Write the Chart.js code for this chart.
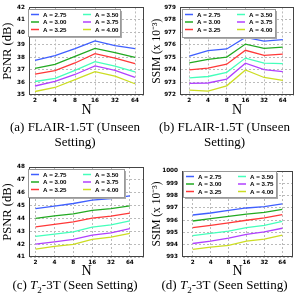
<!DOCTYPE html>
<html lang="en">
<head>
<meta charset="UTF-8">
<title>PSNR / SSIM vs N</title>
<script src="https://cdn.jsdelivr.net/npm/chart.js@4.4.0/dist/chart.umd.min.js"></script>
<style>
  body { margin: 0; background: #fff; width: 299px; height: 296px; position: relative; overflow: hidden; }
  canvas { position: absolute; }
  .cap { position: absolute; text-align: center; font-family: "Liberation Serif", serif; font-size: 13px; line-height: 15px; color: #000; }
</style>
</head>
<body>
<canvas id="ca" width="150" height="119" style="left:0;top:0"></canvas>
<canvas id="cb" width="149" height="119" style="left:150px;top:0"></canvas>
<canvas id="cc" width="150" height="132" style="left:0;top:148px"></canvas>
<canvas id="cd" width="149" height="132" style="left:150px;top:148px"></canvas>
<div class="cap" style="left:0;top:119px;width:150px">(a) FLAIR-1.5T (Unseen<br>Setting)</div>
<div class="cap" style="left:150px;top:119px;width:149px">(b) FLAIR-1.5T (Unseen<br>Setting)</div>
<div class="cap" style="left:0;top:277px;width:150px">(c) <i>T</i><sub style="font-size:9px;line-height:0">2</sub>-3T (Seen Setting)</div>
<div class="cap" style="left:150px;top:277px;width:149px">(d) <i>T</i><sub style="font-size:9px;line-height:0">2</sub>-3T (Seen Setting)</div>

<script>
const nLabels = ['2', '4', '8', '16', '32', '64'];
const aLabels = ['A = 2.75', 'A = 3.00', 'A = 3.25', 'A = 3.50', 'A = 3.75', 'A = 4.00'];
const lineColors = ['#3f5fff', '#22aa22', '#ff3838', '#44ffbb', '#b040ff', '#ccdd22'];

// (a) FLAIR PSNR
const flairPsnr = [
  [37.77, 38.15, 38.70, 39.33, 38.95, 38.70],
  [37.13, 37.44, 38.08, 38.72, 38.38, 38.00],
  [36.67, 36.95, 37.56, 38.30, 37.95, 37.50],
  [36.08, 36.33, 36.97, 37.67, 37.30, 36.85],
  [35.72, 36.08, 36.64, 37.33, 36.97, 36.40],
  [35.28, 35.60, 36.23, 36.87, 36.50, 35.90]
];
// (b) FLAIR SSIM (x 10^-3)
const flairSsim = [
  [975.10, 975.55, 975.68, 976.60, 976.30, 976.42],
  [974.56, 974.85, 975.03, 976.07, 975.73, 975.83],
  [974.00, 974.15, 974.46, 975.57, 975.16, 975.26],
  [973.37, 973.48, 973.81, 974.95, 974.54, 974.51],
  [972.93, 972.96, 973.27, 974.54, 974.02, 973.87],
  [972.39, 972.31, 972.73, 974.00, 973.40, 973.17]
];
// (c) T2 PSNR
const t2Psnr = [
  [44.77, 44.95, 45.16, 45.42, 45.55, 45.75],
  [44.00, 44.20, 44.36, 44.62, 44.77, 44.98],
  [43.35, 43.53, 43.74, 44.02, 44.18, 44.41],
  [42.60, 42.78, 42.96, 43.33, 43.50, 43.81],
  [42.00, 42.18, 42.37, 42.70, 42.88, 43.20],
  [41.62, 41.82, 41.98, 42.37, 42.55, 42.83]
];
// (d) T2 SSIM (x 10^-3)
const t2Ssim = [
  [996.42, 996.58, 996.80, 996.99, 997.10, 997.33],
  [995.93, 996.12, 996.30, 996.49, 996.63, 996.87],
  [995.39, 995.58, 995.77, 995.99, 996.18, 996.45],
  [994.74, 994.93, 995.10, 995.39, 995.58, 995.90],
  [994.10, 994.29, 994.53, 994.85, 995.04, 995.34],
  [993.62, 993.80, 993.94, 994.29, 994.46, 994.78]
];

const tickFont = { family: 'DejaVu Sans', size: 5.7, weight: 'bold' };

// frame + legend box inside the plot area
const frameLegend = {
  id: 'frameLegend',
  afterDatasetsDraw(chart, args, opts) {
    const ctx = chart.ctx, a = chart.chartArea;
    ctx.save();
    ctx.strokeStyle = '#444';
    ctx.lineWidth = 1;
    ctx.strokeRect(Math.round(a.left) + 0.5, Math.round(a.top) + 0.5, Math.round(a.right - a.left) - 1, Math.round(a.bottom - a.top) - 1);

    const bx = Math.round(a.left + opts.x), by = Math.round(a.top + opts.y), bw = opts.w, bh = opts.h;
    ctx.fillStyle = '#aaa';
    ctx.fillRect(bx + 2, by + 2, bw, bh);
    ctx.fillStyle = '#fff';
    ctx.fillRect(bx, by, bw, bh);
    ctx.strokeStyle = '#999';
    ctx.strokeRect(bx + 0.5, by + 0.5, bw, bh);
    ctx.font = 'bold 6.2px "Liberation Sans"';
    ctx.textBaseline = 'middle';
    ctx.fillStyle = '#000';
    chart.data.datasets.forEach((ds, i) => {
      const col = Math.floor(i / 3), row = i % 3;
      const x = bx + 3 + col * 52;
      const y = by + 5.5 + row * 7.5;
      ctx.strokeStyle = ds.borderColor;
      ctx.lineWidth = 1.5;
      ctx.beginPath();
      ctx.moveTo(x, y);
      ctx.lineTo(x + 8, y);
      ctx.stroke();
      ctx.fillText(ds.label, x + 12, y + 0.5);
    });
    ctx.restore();
  }
};

function makePanel(id, series, yMin, yMax, yTitle, box) {
  const datasets = series.map((vals, i) => ({
    label: aLabels[i],
    data: vals.map((v, j) => ({ x: j, y: v })),
    borderColor: lineColors[i],
    backgroundColor: lineColors[i],
    borderWidth: 1.3,
    pointRadius: 0,
    tension: 0
  }));
  new Chart(document.getElementById(id), {
    type: 'line',
    data: { datasets },
    plugins: [frameLegend],
    options: {
      responsive: false,
      animation: false,
      events: [],
      layout: { padding: { left: 0, top: box.top, right: box.right, bottom: 0 } },
      plugins: {
        legend: { display: false },
        tooltip: { enabled: false },
        frameLegend: box.legend
      },
      scales: {
        x: {
          type: 'linear',
          min: box.xMin, max: box.xMax,
          afterBuildTicks: s => { s.ticks = nLabels.map((l, i) => ({ value: i })); },
          afterFit: s => { s.height = box.xH; },
          ticks: { font: tickFont, color: '#000', padding: 2, maxRotation: 0, callback: v => nLabels[v] },
          grid: { color: '#bbb', drawTicks: false },
          border: { display: true, color: 'rgba(0,0,0,0)', dash: [2, 2] },
          title: { display: true, text: 'N', font: { family: 'Liberation Serif', size: 14 }, color: '#000', padding: { top: 0, bottom: 0 } }
        },
        y: {
          min: yMin, max: yMax,
          afterFit: s => { s.width = box.yW; },
          ticks: { stepSize: 1, font: tickFont, color: '#000', padding: 4, callback: v => String(v) },
          grid: { color: '#bbb', drawTicks: false },
          border: { display: true, color: 'rgba(0,0,0,0)', dash: [2, 2] },
          title: { display: true, text: yTitle, font: { family: 'Liberation Serif', size: box.tSize }, color: '#000', padding: { top: 0, bottom: 2 } }
        }
      }
    }
  });
}

makePanel('ca', flairPsnr, 35, 42, 'PSNR (dB)',
  { top: 4, right: 6, yW: 29, xH: 24, xMin: -0.3, xMax: 5.45, tSize: 12.5,
    legend: { x: -1, y: 2, w: 92, h: 27 } });
makePanel('cb', flairSsim, 972, 979, 'SSIM (x 10⁻³)',
  { top: 5, right: 5, yW: 30, xH: 24, xMin: -0.5, xMax: 5.6, tSize: 11.5,
    legend: { x: 2, y: 2, w: 93, h: 28 } });
makePanel('cc', t2Psnr, 41, 48, 'PSNR (dB)',
  { top: 19, right: 6, yW: 29, xH: 23, xMin: -0.35, xMax: 5.75, tSize: 12.5,
    legend: { x: -1, y: 2, w: 96, h: 28 } });
makePanel('cd', t2Ssim, 993, 1000, 'SSIM (x 10⁻³)',
  { top: 23, right: 6, yW: 32, xH: 23, xMin: -0.6, xMax: 5.6, tSize: 11.5,
    legend: { x: 1, y: 0, w: 93, h: 26 } });
</script>
</body>
</html>
